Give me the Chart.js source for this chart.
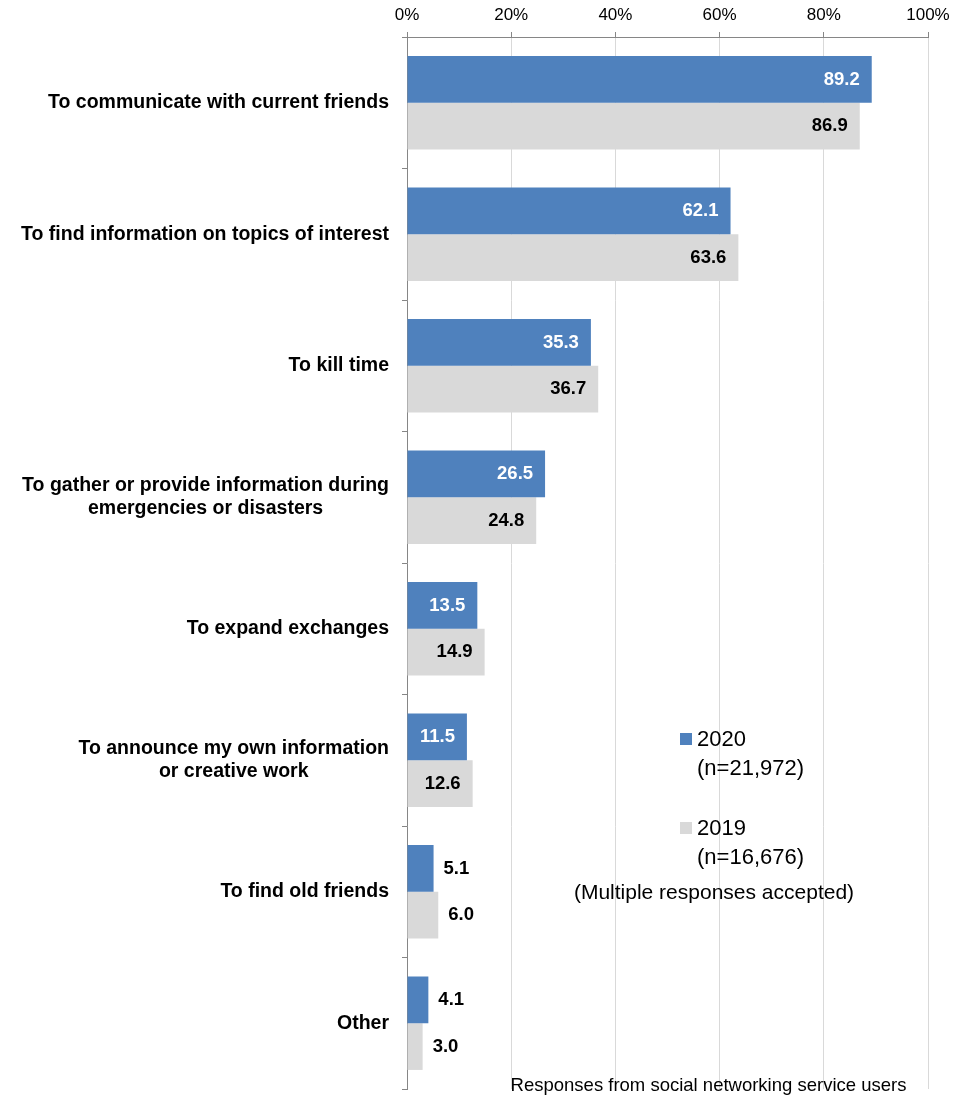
<!DOCTYPE html>
<html>
<head>
<meta charset="utf-8">
<title>Reasons for using social networking services</title>
<script src="https://cdn.jsdelivr.net/npm/chart.js@4/dist/chart.umd.min.js"></script>
<style>
  html, body { margin: 0; padding: 0; background: #fff; }
  #wrap { width: 962px; height: 1096px; position: relative; }
</style>
</head>
<body>
<div id="wrap"><canvas id="chart"></canvas></div>
<script>
// Reasons for use, top to bottom ("\n" marks a line break in the label)
const categories = [
  'To communicate with current friends',
  'To find information on topics of interest',
  'To kill time',
  'To gather or provide information during\nemergencies or disasters',
  'To expand exchanges',
  'To announce my own information\nor creative work',
  'To find old friends',
  'Other'
];

// Share of respondents (%)
const values2020 = [89.2, 62.1, 35.3, 26.5, 13.5, 11.5, 5.1, 4.1];
const values2019 = [86.9, 63.6, 36.7, 24.8, 14.9, 12.6, 6.0, 3.0];

const seriesNames = ['2020', '2019'];
const sampleSizes = ['(n=21,972)', '(n=16,676)'];

const axisTicks = [0, 20, 40, 60, 80, 100];
const noteText = '(Multiple responses accepted)';
const sourceText = 'Responses from social networking service users';

const FONT = '"Liberation Sans", Arial, Helvetica, sans-serif';
const BLUE = '#4f81bd';
const GREY = '#d9d9d9';
const AXIS = '#868686';

// Category labels: right-aligned block beside the axis, lines centred within it
const categoryLabels = {
  id: 'categoryLabels',
  afterDraw(chart) {
    const ctx = chart.ctx;
    const y = chart.scales.y;
    ctx.save();
    ctx.font = 'bold 19.5px ' + FONT;
    ctx.fillStyle = '#000';
    ctx.textAlign = 'center';
    ctx.textBaseline = 'middle';
    categories.forEach((label, i) => {
      const lines = label.split('\n');
      const maxW = Math.max(...lines.map(l => ctx.measureText(l).width));
      const cx = y.right - 18 - maxW / 2;
      const cy = y.getPixelForValue(i);
      const lh = 23;
      lines.forEach((l, j) => {
        ctx.fillText(l, cx, cy + (j - (lines.length - 1) / 2) * lh);
      });
    });
    ctx.restore();
  }
};

// Value labels: inside the bar end when they fit, otherwise just past it
const valueLabels = {
  id: 'valueLabels',
  afterDatasetsDraw(chart) {
    const ctx = chart.ctx;
    ctx.save();
    ctx.font = 'bold 18.5px ' + FONT;
    ctx.textBaseline = 'middle';
    chart.data.datasets.forEach((ds, di) => {
      const meta = chart.getDatasetMeta(di);
      meta.data.forEach((bar, i) => {
        const txt = ds.data[i].toFixed(1);
        const w = ctx.measureText(txt).width;
        const barW = bar.x - bar.base;
        if (barW >= w + 18) {
          ctx.textAlign = 'right';
          ctx.fillStyle = di === 0 ? '#ffffff' : '#000000';
          ctx.fillText(txt, bar.x - 12, bar.y);
        } else {
          ctx.textAlign = 'left';
          ctx.fillStyle = '#000000';
          ctx.fillText(txt, bar.x + 10, bar.y);
        }
      });
    });
    ctx.restore();
  }
};

// Legend with sample sizes, the multiple-response note and the base description
const legendAndNotes = {
  id: 'legendAndNotes',
  afterDraw(chart) {
    const ctx = chart.ctx;
    ctx.save();
    const colors = chart.data.datasets.map(d => d.backgroundColor);
    ctx.textBaseline = 'alphabetic';
    ctx.textAlign = 'left';
    ctx.font = '22px ' + FONT;
    const tops = [733, 822];
    seriesNames.forEach((name, i) => {
      const top = tops[i];
      ctx.fillStyle = colors[i];
      ctx.fillRect(680, top, 12, 12);
      ctx.fillStyle = '#000';
      ctx.fillText(name, 697, top + 13);
      ctx.fillText(sampleSizes[i], 697, top + 42);
    });
    ctx.font = '21px ' + FONT;
    ctx.textAlign = 'center';
    ctx.fillText(noteText, 714, 899);
    ctx.font = '18.5px ' + FONT;
    ctx.fillText(sourceText, 708.5, 1091);
    ctx.restore();
  }
};

new Chart(document.getElementById('chart'), {
  type: 'bar',
  data: {
    labels: categories,
    datasets: [
      { label: seriesNames[0], data: values2020, backgroundColor: BLUE, borderWidth: 0 },
      { label: seriesNames[1], data: values2019, backgroundColor: GREY, borderWidth: 0 }
    ]
  },
  options: {
    indexAxis: 'y',
    responsive: true,
    maintainAspectRatio: false,
    animation: false,
    events: [],
    layout: { padding: { top: 0, right: 34, bottom: 7, left: 0 } },
    datasets: { bar: { categoryPercentage: 0.71, barPercentage: 1.0 } },
    plugins: {
      legend: { display: false },
      tooltip: { enabled: false }
    },
    scales: {
      x: {
        position: 'top',
        min: 0,
        max: 100,
        afterBuildTicks(scale) {
          scale.ticks = axisTicks.map(v => ({ value: v }));
        },
        afterFit(scale) { scale.height = 37; },
        ticks: {
          color: '#000',
          font: { family: FONT, size: 17 },
          padding: 6,
          maxRotation: 0,
          callback: v => v + '%'
        },
        grid: {
          color: GREY,
          lineWidth: 1,
          tickColor: AXIS,
          tickLength: 5
        },
        border: { color: AXIS, width: 1 }
      },
      y: {
        afterFit(scale) { scale.width = 407; },
        ticks: { display: false },
        grid: {
          drawOnChartArea: false,
          offset: true,
          tickColor: AXIS,
          tickLength: 5
        },
        border: { color: AXIS, width: 1 }
      }
    }
  },
  plugins: [categoryLabels, valueLabels, legendAndNotes]
});
</script>
</body>
</html>
